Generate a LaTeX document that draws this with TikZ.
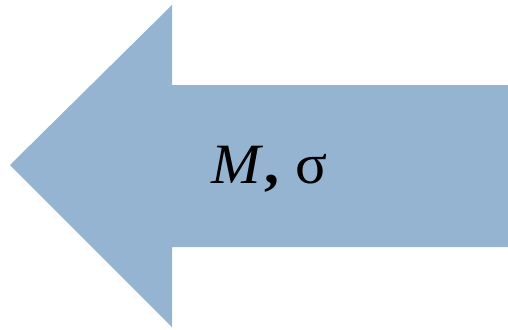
\documentclass[tikz,border=0pt]{standalone}
\usepackage{fontspec}
\setmainfont{Liberation Serif}
\definecolor{arrowblue}{RGB}{149,180,210}
\begin{document}
\begin{tikzpicture}[x=1pt,y=-1pt]
\useasboundingbox (0,0) rectangle (508,329);
\fill[arrowblue] (10,165) -- (172,5) -- (172,85) -- (508,85) -- (508,247) -- (172,247) -- (172,327) -- cycle;
\node[anchor=base west, inner sep=0pt, xscale=1.04, font=\fontsize{57}{64}\selectfont] (lbl) at (211,183) {\textit{M}\kern1pt\textbf{,}\hspace{16pt}σ};
\end{tikzpicture}
\end{document}
